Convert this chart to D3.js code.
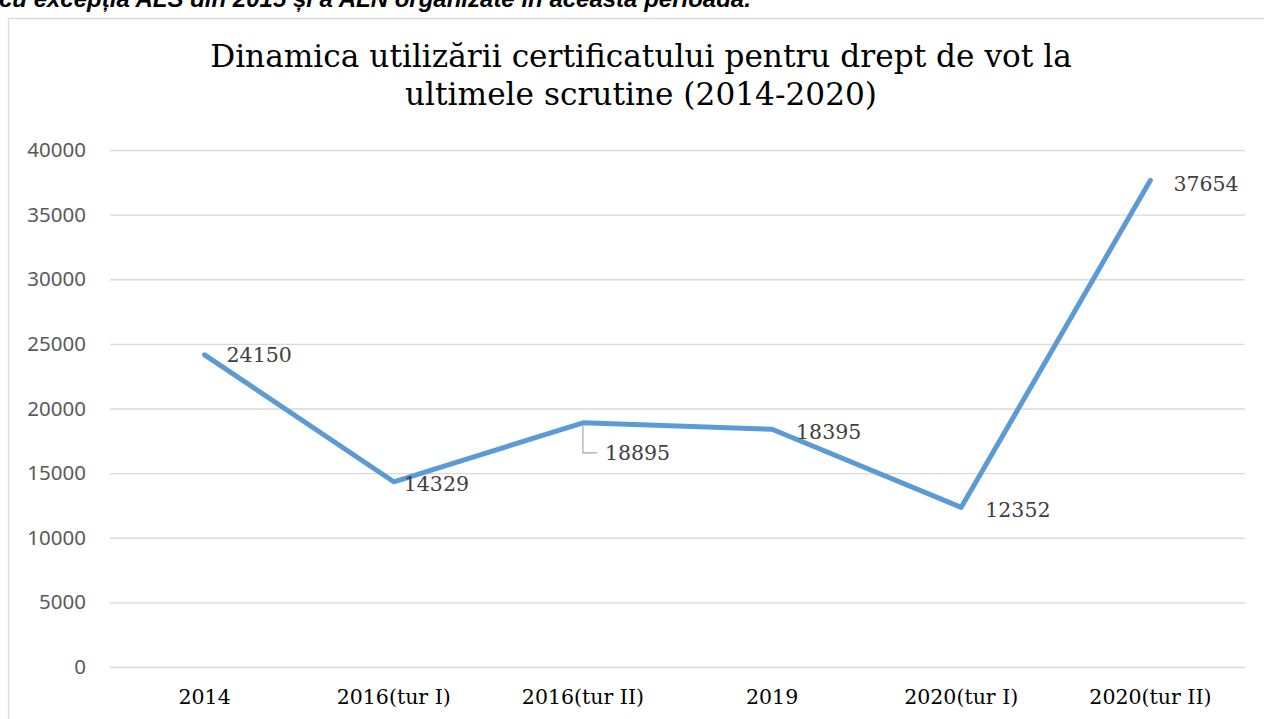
<!DOCTYPE html>
<html>
<head>
<meta charset="utf-8">
<script src="https://cdn.jsdelivr.net/npm/d3@7"></script>
<style>
html,body{margin:0;padding:0;background:#fff;overflow:hidden;}
svg{display:block;}
</style>
</head>
<body>
<svg id="chart" width="1264" height="719"></svg>
<script>
const categories = ["2014", "2016(tur I)", "2016(tur II)", "2019", "2020(tur I)", "2020(tur II)"];
const values = [24150, 14329, 18895, 18395, 12352, 37654];
const yTicks = [0, 5000, 10000, 15000, 20000, 25000, 30000, 35000, 40000];
const titleLines = ["Dinamica utilizării certificatului pentru drept de vot la", "ultimele scrutine (2014-2020)"];
const noteText = "cu excepția ALS din 2015 și a ALN organizate în această perioadă.";

const W = 1264, H = 719;
const svg = d3.select("#chart");
const plot = {left: 110, right: 1245, top: 150, bottom: 667};

// label placement (pixel offsets from each point)
const labelDx = [22, 10, 22, 24, 24, 23];
const labelDy = [0, 2, 30, 2, 2, 3];

const x = d3.scaleBand().domain(categories).range([plot.left, plot.right]).padding(0);
const y = d3.scaleLinear().domain([0, 40000]).range([plot.bottom, plot.top]);

// note text (partly above the top edge, as in the source page)
svg.append("text")
  .attr("x", -1).attr("y", 7)
  .attr("font-family", "Liberation Sans, Arial, sans-serif")
  .attr("font-style", "italic").attr("font-weight", "bold")
  .attr("font-size", 24).attr("fill", "#000")
  .text(noteText);

// chart frame
svg.append("rect")
  .attr("x", 8.5).attr("y", 18.5).attr("width", 1300).attr("height", 800)
  .attr("fill", "#fff").attr("stroke", "#d9d9d9").attr("stroke-width", 1.3);

// title
svg.append("g").selectAll("text").data(titleLines).join("text")
  .attr("x", 641).attr("y", (d, i) => 67 + i * 38)
  .attr("text-anchor", "middle")
  .attr("font-family", "DejaVu Serif, serif")
  .attr("font-size", 31.2).attr("fill", "#000")
  .text(d => d);

// gridlines + y axis
const yAxis = d3.axisLeft(y).tickValues(yTicks).tickSize(-(plot.right - plot.left)).tickPadding(24).tickFormat(d3.format("d"));
const gy = svg.append("g").attr("transform", `translate(${plot.left},0)`).call(yAxis);
gy.select(".domain").remove();
gy.selectAll(".tick line").attr("stroke", "#d9d9d9").attr("stroke-width", 1.3);
gy.selectAll(".tick text")
  .attr("font-family", "Noto Sans, Open Sans, sans-serif")
  .attr("font-size", 20.5).attr("fill", "#595959");

// x axis labels
const xAxis = d3.axisBottom(x).tickSize(0).tickPadding(22);
const gx = svg.append("g").attr("transform", `translate(0,${plot.bottom})`).call(xAxis);
gx.select(".domain").remove();
gx.selectAll(".tick text")
  .attr("font-family", "DejaVu Serif, serif")
  .attr("font-size", 20.5).attr("fill", "#000");

// line
const pts = categories.map((c, i) => ({c, v: values[i], i}));
const line = d3.line().x(d => x(d.c) + x.bandwidth() / 2).y(d => y(d.v));
svg.append("path").datum(pts)
  .attr("d", line)
  .attr("fill", "none").attr("stroke", "#5B9BD5")
  .attr("stroke-width", 5).attr("stroke-linejoin", "round").attr("stroke-linecap", "round");

// leader line for 3rd label
const p2 = pts[2];
const lx = x(p2.c) + x.bandwidth() / 2, ly = y(p2.v);
svg.append("path")
  .attr("d", `M${lx},${ly + 3}V${ly + labelDy[2]}H${lx + 14}`)
  .attr("fill", "none").attr("stroke", "#a6a6a6").attr("stroke-width", 1.2);

// data labels
svg.append("g").selectAll("text").data(pts).join("text")
  .attr("x", d => x(d.c) + x.bandwidth() / 2 + labelDx[d.i])
  .attr("y", d => y(d.v) + labelDy[d.i])
  .attr("dy", "0.36em")
  .attr("font-family", "DejaVu Serif, serif")
  .attr("font-size", 20.5).attr("fill", "#404040")
  .text(d => d.v);
</script>
</body>
</html>
